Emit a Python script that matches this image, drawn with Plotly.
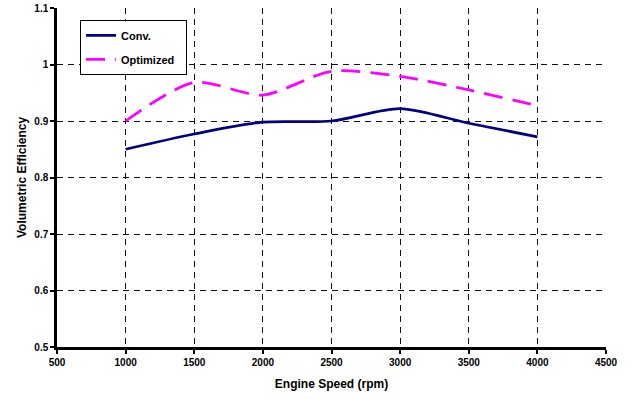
import plotly.graph_objects as go

speed = [1000, 1500, 2000, 2500, 3000, 3500, 4000]
conv = [0.850, 0.877, 0.898, 0.900, 0.922, 0.896, 0.872]
optimized = [0.900, 0.968, 0.946, 0.988, 0.979, 0.955, 0.927]

x_ticks = [500, 1000, 1500, 2000, 2500, 3000, 3500, 4000, 4500]
y_ticks = [0.5, 0.6, 0.7, 0.8, 0.9, 1.0, 1.1]
y_labels = ["0.5", "0.6", "0.7", "0.8", "0.9", "1", "1.1"]

font_family = "Liberation Sans, Arial, sans-serif"

fig = go.Figure()
fig.add_trace(go.Scatter(x=speed, y=conv, mode="lines", name="<b>Conv.</b>",
                         legendgroup="a",
                         line=dict(color="#000080", width=2.75, shape="spline", smoothing=0.8)))
fig.add_trace(go.Scatter(x=speed, y=optimized, mode="lines", name="<b>Optimized</b>  ",
                         legendgroup="b",
                         line=dict(color="#FF00FF", width=2.75, shape="spline", smoothing=0.8,
                                   dash="19px,10px")))

grid = dict(showgrid=True, gridcolor="#111111", griddash="6px,5px", gridwidth=1,
            showline=True, linecolor="black", linewidth=2.5,
            ticks="outside", ticklen=4, tickcolor="black", tickwidth=1.5,
            zeroline=False, automargin=False)

fig.update_layout(
    width=634, height=399,
    margin=dict(l=57, r=28, t=8, b=52, autoexpand=False),
    paper_bgcolor="white", plot_bgcolor="white",
    font=dict(family=font_family, size=10, color="black"),
    legend=dict(x=0.042, y=0.965, xanchor="left", yanchor="top",
                bordercolor="black", borderwidth=1, bgcolor="white",
                font=dict(size=11, family=font_family),
                traceorder="grouped", tracegroupgap=5),
    xaxis=dict(range=[500, 4500], tickvals=x_ticks,
               ticktext=[f"<b>{v}</b>" for v in x_ticks],
               title=dict(text="<b>Engine Speed (rpm)</b>", font=dict(size=12), standoff=13),
               **grid),
    yaxis=dict(range=[0.5, 1.1], tickvals=y_ticks,
               ticktext=[f"<b>{v}</b>" for v in y_labels],
               title=dict(text="<b>Volumetric Efficiency</b>", font=dict(size=12), standoff=6),
               **grid),
)

fig.write_html("out.html", config={"displayModeBar": False},
               post_script="document.body.style.margin='0';")
